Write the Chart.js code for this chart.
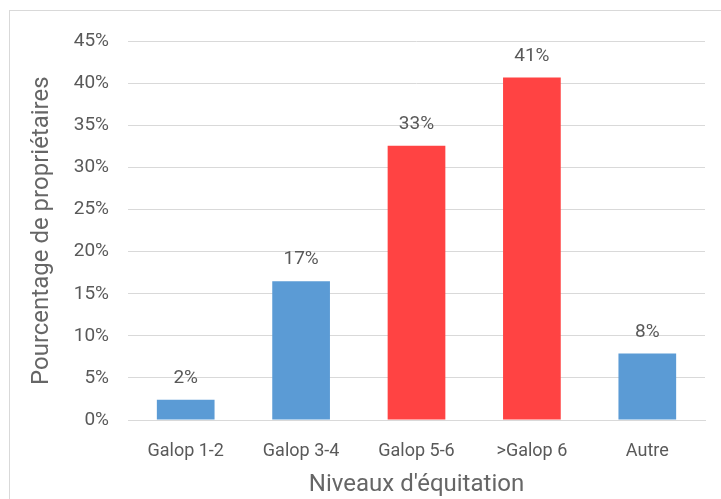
<!DOCTYPE html>
<html>
<head>
<meta charset="utf-8">
<script src="https://cdn.jsdelivr.net/npm/chart.js@4/dist/chart.umd.min.js"></script>
<style>
  html, body { margin: 0; padding: 0; background: #fff; }
  #box {
    position: absolute; left: 9px; top: 10px;
    width: 712px; height: 489px;
    border: 1px solid #d9d9d9; border-right: none; border-bottom: none;
    box-sizing: border-box;
  }
  canvas { display: block; }
</style>
</head>
<body>
<div id="box"><canvas id="chart" width="711" height="488"></canvas></div>
<script>
const categories = ['Galop 1-2', 'Galop 3-4', 'Galop 5-6', '>Galop 6', 'Autre'];
const values = [2.4, 16.5, 32.6, 40.7, 7.9];
const labels = ['2%', '17%', '33%', '41%', '8%'];
const barColors = ['#5b9bd5', '#5b9bd5', '#ff4343', '#ff4343', '#5b9bd5'];

const FONT = "Roboto, 'Liberation Sans', sans-serif";
const GREY = '#595959';

// percentages above each bar
const valueLabels = {
  id: 'valueLabels',
  afterDatasetsDraw(chart) {
    const ctx = chart.ctx;
    const meta = chart.getDatasetMeta(0);
    ctx.save();
    ctx.font = '19px ' + FONT;
    ctx.fillStyle = GREY;
    ctx.textAlign = 'center';
    ctx.textBaseline = 'alphabetic';
    meta.data.forEach((bar, i) => {
      ctx.fillText(labels[i], bar.x, bar.y - 17);
    });
    ctx.restore();
  }
};

new Chart(document.getElementById('chart').getContext('2d'), {
  type: 'bar',
  data: {
    labels: categories,
    datasets: [{
      data: values,
      backgroundColor: barColors,
      categoryPercentage: 1,
      barPercentage: 0.5,
    }],
  },
  options: {
    animation: false,
    responsive: false,
    layout: { padding: { top: 23, right: 16, left: 18, bottom: 0 } },
    plugins: {
      legend: { display: false },
      tooltip: { enabled: false },
    },
    scales: {
      x: {
        afterFit(scale) { scale.height = 79; },
        grid: { display: false, drawTicks: false },
        border: { color: '#d9d9d9' },
        ticks: { color: GREY, font: { family: FONT, size: 18 }, padding: 21 },
        title: {
          display: true,
          text: "Niveaux d'équitation",
          color: '#666',
          font: { family: FONT, size: 24 },
          padding: { top: 0, bottom: 0 },
        },
      },
      y: {
        min: 0,
        max: 45,
        afterFit(scale) { scale.width = 100; },
        grid: { color: '#d9d9d9', drawTicks: false },
        border: { display: false },
        ticks: {
          stepSize: 5,
          color: GREY,
          font: { family: FONT, size: 19 },
          padding: 19,
          callback: (v) => v + '%',
        },
        title: {
          display: true,
          text: 'Pourcentage de propriétaires',
          color: '#666',
          font: { family: FONT, size: 24 },
          padding: { top: 0, bottom: 0 },
        },
      },
    },
  },
  plugins: [valueLabels],
});
</script>
</body>
</html>
